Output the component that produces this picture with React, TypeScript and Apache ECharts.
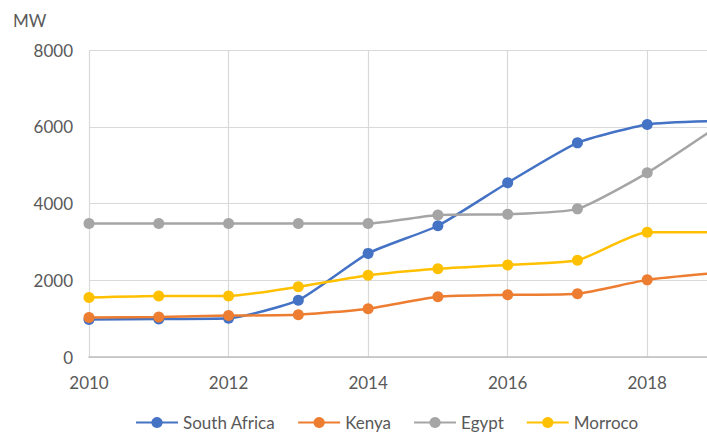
import React, { useEffect, useRef } from "react";
import * as echarts from "echarts";

const years = [2010, 2011, 2012, 2013, 2014, 2015, 2016, 2017, 2018, 2019];
const southAfrica = [980, 990, 1010, 1480, 2700, 3420, 4540, 5580, 6060, 6150];
const kenya = [1030, 1040, 1080, 1100, 1260, 1570, 1620, 1650, 2010, 2190];
const egypt = [3480, 3480, 3480, 3480, 3480, 3700, 3720, 3860, 4800, 6000];
const morroco = [1550, 1590, 1590, 1830, 2130, 2300, 2400, 2520, 3250, 3250];
const seriesNames = ["South Africa", "Kenya", "Egypt", "Morroco"];
const seriesColors = ["#4472C4", "#ED7D31", "#A5A5A5", "#FFC000"];

const FONT = "Lato, 'Open Sans', sans-serif";

export default function App() {
  const ref = useRef<HTMLDivElement>(null);
  useEffect(() => {
    if (!ref.current) return;
    const chart = echarts.init(ref.current, undefined, { renderer: "svg" });
    const all = [southAfrica, kenya, egypt, morroco];
    chart.setOption({
      animation: false,
      textStyle: { fontFamily: FONT },
      graphic: [
        {
          type: "text",
          left: 13,
          top: 12,
          style: { text: "MW", fontSize: 17, fill: "#595959", fontFamily: FONT },
        },
      ],
      grid: { left: 89, right: -10, top: 50, bottom: 75, outerBoundsMode: "none", containLabel: false },
      legend: {
        left: 130,
        top: 409,
        itemWidth: 42,
        itemHeight: 14,
        itemGap: 22,
        textStyle: { color: "#595959", fontSize: 17, fontFamily: FONT },
        data: seriesNames,
      },
      xAxis: {
        type: "value",
        min: 2010,
        max: 2019,
        interval: 2,
        axisLine: { show: true, lineStyle: { color: "#BFBFBF", width: 1.5 } },
        axisTick: { show: false },
        axisLabel: {
          color: "#595959",
          fontSize: 17,
          margin: 17,
          showMaxLabel: false,
          formatter: (v: number) => String(v),
        },
        splitLine: { show: true, lineStyle: { color: "#D9D9D9", width: 1.2 } },
      },
      yAxis: {
        type: "value",
        min: 0,
        max: 8000,
        interval: 2000,
        axisLine: { show: false },
        axisTick: { show: false },
        axisLabel: {
          color: "#595959",
          fontSize: 17,
          margin: 16,
          formatter: (v: number) => String(v),
        },
        splitLine: { show: true, lineStyle: { color: "#D9D9D9", width: 1.2 } },
      },
      series: all.map((vals, i) => ({
        name: seriesNames[i],
        type: "line",
        smooth: 0.18,
        symbol: "circle",
        symbolSize: 11,
        lineStyle: { width: 2.5, color: seriesColors[i] },
        itemStyle: { color: seriesColors[i] },
        data: years.map((y, j) => [y, vals[j]]),
      })),
    });
    return () => chart.dispose();
  }, []);
  return <div ref={ref} style={{ width: 707, height: 432, position: "absolute", left: 0, top: 0 }} />;
}
